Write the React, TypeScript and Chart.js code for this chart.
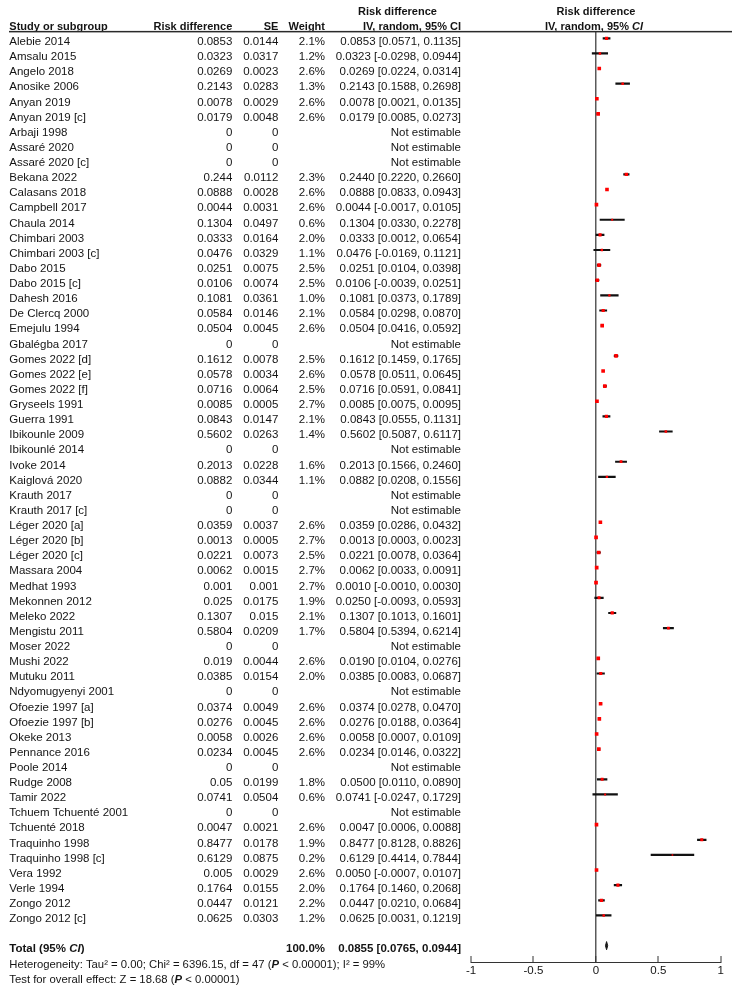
import React, { useEffect, useRef } from "react";
import { Chart, registerables } from "chart.js";

Chart.register(...registerables);

const studies = [
  "Alebie 2014", "Amsalu 2015", "Angelo 2018", "Anosike 2006", "Anyan 2019", "Anyan 2019 [c]",
  "Arbaji 1998", "Assaré 2020", "Assaré 2020 [c]", "Bekana 2022", "Calasans 2018", "Campbell 2017",
  "Chaula 2014", "Chimbari 2003", "Chimbari 2003 [c]", "Dabo 2015", "Dabo 2015 [c]", "Dahesh 2016",
  "De Clercq 2000", "Emejulu 1994", "Gbalégba 2017", "Gomes 2022 [d]", "Gomes 2022 [e]", "Gomes 2022 [f]",
  "Gryseels 1991", "Guerra 1991", "Ibikounle 2009", "Ibikounlé 2014", "Ivoke 2014", "Kaiglová 2020",
  "Krauth 2017", "Krauth 2017 [c]", "Léger 2020 [a]", "Léger 2020 [b]", "Léger 2020 [c]", "Massara 2004",
  "Medhat 1993", "Mekonnen 2012", "Meleko 2022", "Mengistu 2011", "Moser 2022", "Mushi 2022",
  "Mutuku 2011", "Ndyomugyenyi 2001", "Ofoezie 1997 [a]", "Ofoezie 1997 [b]", "Okeke 2013", "Pennance 2016",
  "Poole 2014", "Rudge 2008", "Tamir 2022", "Tchuem Tchuenté 2001", "Tchuenté 2018", "Traquinho 1998",
  "Traquinho 1998 [c]", "Vera 1992", "Verle 1994", "Zongo 2012", "Zongo 2012 [c]",
];

const riskDiff = [
  0.0853, 0.0323, 0.0269, 0.2143, 0.0078, 0.0179,
  0, 0, 0, 0.244, 0.0888, 0.0044,
  0.1304, 0.0333, 0.0476, 0.0251, 0.0106, 0.1081,
  0.0584, 0.0504, 0, 0.1612, 0.0578, 0.0716,
  0.0085, 0.0843, 0.5602, 0, 0.2013, 0.0882,
  0, 0, 0.0359, 0.0013, 0.0221, 0.0062,
  0.001, 0.025, 0.1307, 0.5804, 0, 0.019,
  0.0385, 0, 0.0374, 0.0276, 0.0058, 0.0234,
  0, 0.05, 0.0741, 0, 0.0047, 0.8477,
  0.6129, 0.005, 0.1764, 0.0447, 0.0625,
];

const stdErr = [
  0.0144, 0.0317, 0.0023, 0.0283, 0.0029, 0.0048,
  0, 0, 0, 0.0112, 0.0028, 0.0031,
  0.0497, 0.0164, 0.0329, 0.0075, 0.0074, 0.0361,
  0.0146, 0.0045, 0, 0.0078, 0.0034, 0.0064,
  0.0005, 0.0147, 0.0263, 0, 0.0228, 0.0344,
  0, 0, 0.0037, 0.0005, 0.0073, 0.0015,
  0.001, 0.0175, 0.015, 0.0209, 0, 0.0044,
  0.0154, 0, 0.0049, 0.0045, 0.0026, 0.0045,
  0, 0.0199, 0.0504, 0, 0.0021, 0.0178,
  0.0875, 0.0029, 0.0155, 0.0121, 0.0303,
];

const weights: (number | null)[] = [
  2.1, 1.2, 2.6, 1.3, 2.6, 2.6,
  null, null, null, 2.3, 2.6, 2.6,
  0.6, 2.0, 1.1, 2.5, 2.5, 1.0,
  2.1, 2.6, null, 2.5, 2.6, 2.5,
  2.7, 2.1, 1.4, null, 1.6, 1.1,
  null, null, 2.6, 2.7, 2.5, 2.7,
  2.7, 1.9, 2.1, 1.7, null, 2.6,
  2.0, null, 2.6, 2.6, 2.6, 2.6,
  null, 1.8, 0.6, null, 2.6, 1.9,
  0.2, 2.6, 2.0, 2.2, 1.2,
];

const ciLow: (number | null)[] = [
  0.0571, -0.0298, 0.0224, 0.1588, 0.0021, 0.0085,
  null, null, null, 0.2220, 0.0833, -0.0017,
  0.0330, 0.0012, -0.0169, 0.0104, -0.0039, 0.0373,
  0.0298, 0.0416, null, 0.1459, 0.0511, 0.0591,
  0.0075, 0.0555, 0.5087, null, 0.1566, 0.0208,
  null, null, 0.0286, 0.0003, 0.0078, 0.0033,
  -0.0010, -0.0093, 0.1013, 0.5394, null, 0.0104,
  0.0083, null, 0.0278, 0.0188, 0.0007, 0.0146,
  null, 0.0110, -0.0247, null, 0.0006, 0.8128,
  0.4414, -0.0007, 0.1460, 0.0210, 0.0031,
];

const ciHigh: (number | null)[] = [
  0.1135, 0.0944, 0.0314, 0.2698, 0.0135, 0.0273,
  null, null, null, 0.2660, 0.0943, 0.0105,
  0.2278, 0.0654, 0.1121, 0.0398, 0.0251, 0.1789,
  0.0870, 0.0592, null, 0.1765, 0.0645, 0.0841,
  0.0095, 0.1131, 0.6117, null, 0.2460, 0.1556,
  null, null, 0.0432, 0.0023, 0.0364, 0.0091,
  0.0030, 0.0593, 0.1601, 0.6214, null, 0.0276,
  0.0687, null, 0.0470, 0.0364, 0.0109, 0.0322,
  null, 0.0890, 0.1729, null, 0.0088, 0.8826,
  0.7844, 0.0107, 0.2068, 0.0684, 0.1219,
];

const totalEffect = 0.0855;
const totalLow = 0.0765;
const totalHigh = 0.0944;
const totalWeight = "100.0%";
const heterogeneityPre = "Heterogeneity: Tau² = 0.00; Chi² = 6396.15, df = 47 (";
const heterogeneityPost = " < 0.00001); I² = 99%";
const overallPre = "Test for overall effect: Z = 18.68 (";
const overallPost = " < 0.00001)";

const xTicks = [-1, -0.5, 0, 0.5, 1];
const xTickLabels = ["-1", "-0.5", "0", "0.5", "1"];

const TOTAL_ROW = 60;
const FONT = '"Liberation Sans", Arial, sans-serif';
const INK = "#141414";

type Piece = { t: string; f: string };

function drawRich(ctx: CanvasRenderingContext2D, pieces: Piece[], x: number, y: number, align: "left" | "center" | "right") {
  let w = 0;
  for (const p of pieces) { ctx.font = p.f; w += ctx.measureText(p.t).width; }
  let cx = align === "left" ? x : align === "center" ? x - w / 2 : x - w;
  ctx.textAlign = "left";
  for (const p of pieces) {
    ctx.font = p.f;
    ctx.fillText(p.t, cx, y);
    cx += ctx.measureText(p.t).width;
  }
}

const tablePlugin = {
  id: "forestTable",
  afterDraw(chart: any) {
    const ctx: CanvasRenderingContext2D = chart.ctx;
    const ys = chart.scales.y;
    const bold = `bold 11px ${FONT}`;
    const boldIt = `italic bold 11px ${FONT}`;
    const body = `11.5px ${FONT}`;
    ctx.save();
    ctx.fillStyle = INK;
    ctx.textBaseline = "alphabetic";

    // header
    ctx.font = bold;
    ctx.textAlign = "left";
    ctx.fillText("Study or subgroup", 9.3, 29.6);
    ctx.textAlign = "right";
    ctx.fillText("Risk difference", 232.3, 29.6);
    ctx.fillText("SE", 278.3, 29.6);
    ctx.fillText("Weight", 325, 29.6);
    ctx.fillText("IV, random, 95% CI", 461, 29.6);
    ctx.textAlign = "center";
    ctx.fillText("Risk difference", 397.5, 14.6);
    ctx.fillText("Risk difference", 596, 14.6);
    drawRich(ctx, [{ t: "IV, random, 95% ", f: bold }, { t: "CI", f: boldIt }], 594, 29.6, "center");

    ctx.fillStyle = "#2a2a2a";
    ctx.fillRect(9, 30.9, 723, 1.5);
    ctx.fillStyle = INK;

    // rows
    ctx.font = body;
    for (let i = 0; i < studies.length; i++) {
      const yb = ys.getPixelForValue(i) + 6.8;
      ctx.textAlign = "left";
      ctx.fillText(studies[i], 9.3, yb);
      ctx.textAlign = "right";
      ctx.fillText(String(riskDiff[i]), 232.3, yb);
      ctx.fillText(String(stdErr[i]), 278.3, yb);
      const w = weights[i];
      const lo = ciLow[i];
      const hi = ciHigh[i];
      if (w !== null && lo !== null && hi !== null) {
        ctx.fillText(w.toFixed(1) + "%", 325, yb);
        ctx.fillText(`${riskDiff[i].toFixed(4)} [${lo.toFixed(4)}, ${hi.toFixed(4)}]`, 461, yb);
      } else {
        ctx.fillText("Not estimable", 461, yb);
      }
    }

    // total row
    const yt = ys.getPixelForValue(TOTAL_ROW) + 6.8;
    const tb = `bold 11.5px ${FONT}`;
    const tbi = `italic bold 11.5px ${FONT}`;
    drawRich(ctx, [{ t: "Total (95% ", f: tb }, { t: "CI", f: tbi }, { t: ")", f: tb }], 9.3, yt, "left");
    ctx.font = tb;
    ctx.textAlign = "right";
    ctx.fillText(totalWeight, 325, yt);
    ctx.fillText(`${totalEffect.toFixed(4)} [${totalLow.toFixed(4)}, ${totalHigh.toFixed(4)}]`, 461, yt);

    // footer
    const fn = `11.3px ${FONT}`;
    const fbi = `italic bold 11.3px ${FONT}`;
    drawRich(ctx, [{ t: heterogeneityPre, f: fn }, { t: "P", f: fbi }, { t: heterogeneityPost, f: fn }], 9.3, 968, "left");
    drawRich(ctx, [{ t: overallPre, f: fn }, { t: "P", f: fbi }, { t: overallPost, f: fn }], 9.3, 982.5, "left");
    ctx.restore();
  },
};

export default function App() {
  const ref = useRef<HTMLCanvasElement>(null);
  useEffect(() => {
    const idx = studies.map((_, i) => i).filter((i) => weights[i] !== null);
    const markerData = idx.map((i) => ({ x: riskDiff[i], y: i }));
    const markerRadius = idx.map((i) => 1 + (weights[i] as number) * 0.6);
    const whiskerData = idx.map((i) => ({ x: [ciLow[i] as number, ciHigh[i] as number], y: i }));
    const diamond = [
      { x: totalLow, y: TOTAL_ROW },
      { x: totalEffect, y: TOTAL_ROW - 0.27 },
      { x: totalHigh, y: TOTAL_ROW },
      { x: totalEffect, y: TOTAL_ROW + 0.27 },
      { x: totalLow, y: TOTAL_ROW },
    ];
    const chart = new Chart(ref.current as HTMLCanvasElement, {
      type: "scatter",
      data: {
        datasets: [
          {
            type: "scatter",
            data: markerData,
            pointStyle: "rect",
            pointRadius: markerRadius,
            backgroundColor: "#ff0000",
            borderWidth: 0,
            order: 0,
          } as any,
          {
            type: "bar",
            indexAxis: "y",
            data: whiskerData,
            backgroundColor: "#111111",
            borderWidth: 0,
            barThickness: 1.5,
            order: 1,
          } as any,
          {
            type: "scatter",
            data: diamond,
            showLine: true,
            fill: "shape",
            backgroundColor: "#1a1a1a",
            borderColor: "#1a1a1a",
            borderWidth: 1,
            pointRadius: 0,
            order: 2,
          } as any,
        ],
      },
      options: {
        animation: false,
        responsive: false,
        events: [],
        layout: { padding: { left: 471, right: 9.3, top: 32, bottom: 4 } },
        plugins: { legend: { display: false }, tooltip: { enabled: false } },
        scales: {
          x: {
            type: "linear",
            position: "bottom",
            min: -1,
            max: 1,
            offset: false,
            afterBuildTicks: (scale: any) => {
              scale.ticks = xTicks.map((v) => ({ value: v }));
            },
            afterFit: (scale: any) => {
              scale.height = 25;
            },
            ticks: {
              autoSkip: false,
              maxRotation: 0,
              padding: 8,
              color: INK,
              font: { family: FONT, size: 11.5 },
              callback: (v: any) => xTickLabels[xTicks.indexOf(Number(v))] ?? "",
            },
            grid: {
              offset: false,
              drawOnChartArea: true,
              drawTicks: true,
              tickLength: -6,
              tickColor: "#333333",
              tickWidth: 1,
              color: (c: any) => (c.tick && c.tick.value === 0 ? "#5a5a5a" : "rgba(0,0,0,0)"),
              lineWidth: (c: any) => (c.tick && c.tick.value === 0 ? 1.5 : 0),
            },
            border: { display: true, color: "#333333", width: 1 },
          },
          y: {
            type: "linear",
            min: -0.4166,
            max: 61.08,
            offset: false,
            grace: 0,
            reverse: true,
            display: false,
            grid: { offset: false },
          },
        },
      } as any,
      plugins: [tablePlugin],
    });
    return () => chart.destroy();
  }, []);
  return (
    <div style={{ position: "absolute", left: 0, top: 0, width: 732, height: 991, background: "#fff" }}>
      <canvas ref={ref} width={732} height={991} style={{ display: "block", width: 732, height: 991 }} />
    </div>
  );
}
